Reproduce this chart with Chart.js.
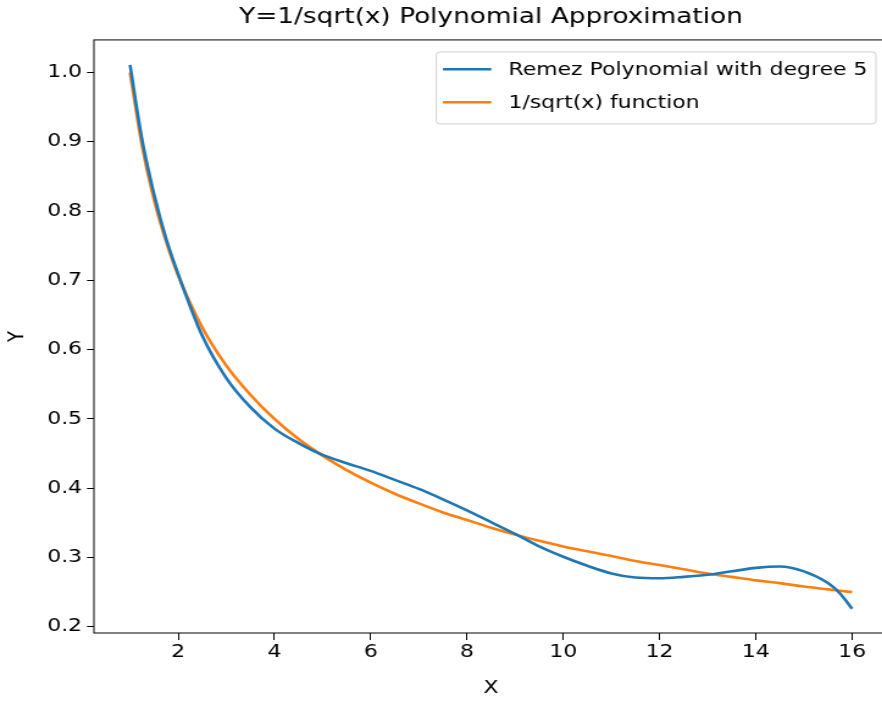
<!DOCTYPE html>
<html>
<head>
<meta charset="utf-8">
<script src="https://cdn.jsdelivr.net/npm/chart.js@4.4.1/dist/chart.umd.min.js"></script>
<style>
    html, body { margin: 0; padding: 0; background: #fff; overflow: hidden; }
    #wrap { width: 882px; height: 702px; overflow: hidden; }
    #chart { transform: scaleX(1.22); transform-origin: 0 0; }
</style>
</head>
<body>
<div id="wrap"><canvas id="chart" width="742" height="702"></canvas></div>
<script>
    const xValues = [1, 1.25, 1.5, 1.75, 2, 2.5, 3, 3.5, 4, 4.5, 5, 5.5, 6, 6.5, 7, 7.5, 8, 8.5,
        9, 9.5, 10, 10.5, 11, 11.5, 12, 12.5, 13, 13.5, 14, 14.5, 15, 15.5, 15.75, 16];
    const remezValues = [1.011, 0.903, 0.824, 0.760, 0.709, 0.620, 0.559, 0.517, 0.486, 0.465, 0.448,
        0.436, 0.425, 0.412, 0.399, 0.384, 0.368, 0.351, 0.334, 0.316, 0.301, 0.288, 0.277, 0.271,
        0.270, 0.272, 0.275, 0.280, 0.285, 0.287, 0.280, 0.263, 0.248, 0.226];
    const sqrtValues = [1.000, 0.894, 0.816, 0.756, 0.707, 0.632, 0.577, 0.535, 0.500, 0.471, 0.447,
        0.426, 0.408, 0.392, 0.378, 0.365, 0.354, 0.343, 0.333, 0.324, 0.316, 0.309, 0.302, 0.295,
        0.289, 0.283, 0.277, 0.272, 0.267, 0.263, 0.258, 0.254, 0.252, 0.250];
    const xTicks = [2, 4, 6, 8, 10, 12, 14, 16];
    const yTicks = [0.2, 0.3, 0.4, 0.5, 0.6, 0.7, 0.8, 0.9, 1.0];

    const FONT = "'DejaVu Sans', 'Liberation Sans', sans-serif";
    Chart.defaults.font.family = FONT;
    Chart.defaults.color = "#000";

    // top/right spines like matplotlib
    const frame = {
        id: "frame",
        afterDatasetsDraw(chart) {
            const { ctx, chartArea } = chart;
            ctx.save();
            ctx.strokeStyle = "#000";
            ctx.lineWidth = 1;
            ctx.strokeRect(chartArea.left, chartArea.top, chartArea.right - chartArea.left, chartArea.bottom - chartArea.top);
            ctx.restore();
        }
    };

    // boxed legend in the upper right of the plot
    const legendBox = {
        id: "legendBox",
        afterDraw(chart) {
            const { ctx, chartArea } = chart;
            ctx.save();
            ctx.font = "18px " + FONT;
            const labels = chart.data.datasets.map(d => d.label);
            const textW = Math.max(...labels.map(t => ctx.measureText(t).width));
            const lineLen = 39.6, padL = 5.5, gap = 14, padR = 7;
            const width = padL + lineLen + gap + textW + padR;
            const right = chartArea.right - 10;
            const left = right - width;
            const top = chartArea.top + 12;
            const height = 72;

            ctx.beginPath();
            if (ctx.roundRect) ctx.roundRect(left, top, width, height, 3);
            else ctx.rect(left, top, width, height);
            ctx.fillStyle = "rgba(255,255,255,0.8)";
            ctx.fill();
            ctx.strokeStyle = "#d0d0d0";
            ctx.lineWidth = 1;
            ctx.stroke();

            chart.data.datasets.forEach((d, i) => {
                const y = top + 17.3 + i * 33;
                ctx.beginPath();
                ctx.moveTo(left + padL, y);
                ctx.lineTo(left + padL + lineLen, y);
                ctx.strokeStyle = d.borderColor;
                ctx.lineWidth = d.borderWidth;
                ctx.stroke();
                ctx.fillStyle = "#000";
                ctx.textBaseline = "middle";
                ctx.textAlign = "left";
                ctx.fillText(d.label, left + padL + lineLen + gap, y + 1);
            });
            ctx.restore();
        }
    };

    const ctx = document.getElementById("chart").getContext("2d");
    new Chart(ctx, {
        type: "line",
        data: {
            datasets: [{
                label: "Remez Polynomial with degree 5",
                data: xValues.map((x, i) => ({ x: x, y: remezValues[i] })),
                borderColor: "#1f77b4",
                borderWidth: 2.6,
                pointRadius: 0,
                fill: false,
                cubicInterpolationMode: "monotone"
            }, {
                label: "1/sqrt(x) function",
                data: xValues.map((x, i) => ({ x: x, y: sqrtValues[i] })),
                borderColor: "#ff7f0e",
                borderWidth: 2.6,
                pointRadius: 0,
                fill: false,
                cubicInterpolationMode: "monotone"
            }]
        },
        options: {
            responsive: false,
            animation: false,
            events: [],
            layout: { padding: { left: 0, right: 14, top: 0, bottom: 0 } },
            plugins: {
                legend: { display: false },
                tooltip: { enabled: false },
                title: {
                    display: true,
                    fullSize: false,
                    text: "Y=1/sqrt(x) Polynomial Approximation",
                    color: "#000",
                    font: { size: 21.6, weight: "normal", family: FONT, lineHeight: 1.2 },
                    padding: { top: 4, bottom: 10 }
                }
            },
            scales: {
                x: {
                    type: "linear",
                    min: 0.25,
                    max: 16.75,
                    afterBuildTicks: scale => { scale.ticks = xTicks.map(v => ({ value: v })); },
                    afterFit: scale => { scale.height = 69; },
                    ticks: {
                        color: "#000",
                        font: { size: 18 },
                        padding: 2,
                        maxRotation: 0,
                        callback: v => String(v)
                    },
                    grid: { drawOnChartArea: false, drawTicks: true, tickLength: 7, tickColor: "#000", tickWidth: 1 },
                    border: { display: false },
                    title: { display: true, text: "X", color: "#000", font: { size: 18, lineHeight: 1.2 }, padding: { top: 3, bottom: 3 } }
                },
                y: {
                    type: "linear",
                    min: 0.191,
                    max: 1.047,
                    afterBuildTicks: scale => { scale.ticks = yTicks.map(v => ({ value: v })); },
                    afterFit: scale => { scale.width = 77; },
                    ticks: {
                        color: "#000",
                        font: { size: 18 },
                        padding: 4,
                        callback: v => Number(v).toFixed(1)
                    },
                    grid: { drawOnChartArea: false, drawTicks: true, tickLength: 5.7, tickColor: "#000", tickWidth: 1 },
                    border: { display: false },
                    title: { display: true, text: "Y", color: "#000", font: { size: 18, lineHeight: 1.2 }, padding: { top: 4, bottom: 4 } }
                }
            }
        },
        plugins: [frame, legendBox]
    });
</script>
</body>
</html>
